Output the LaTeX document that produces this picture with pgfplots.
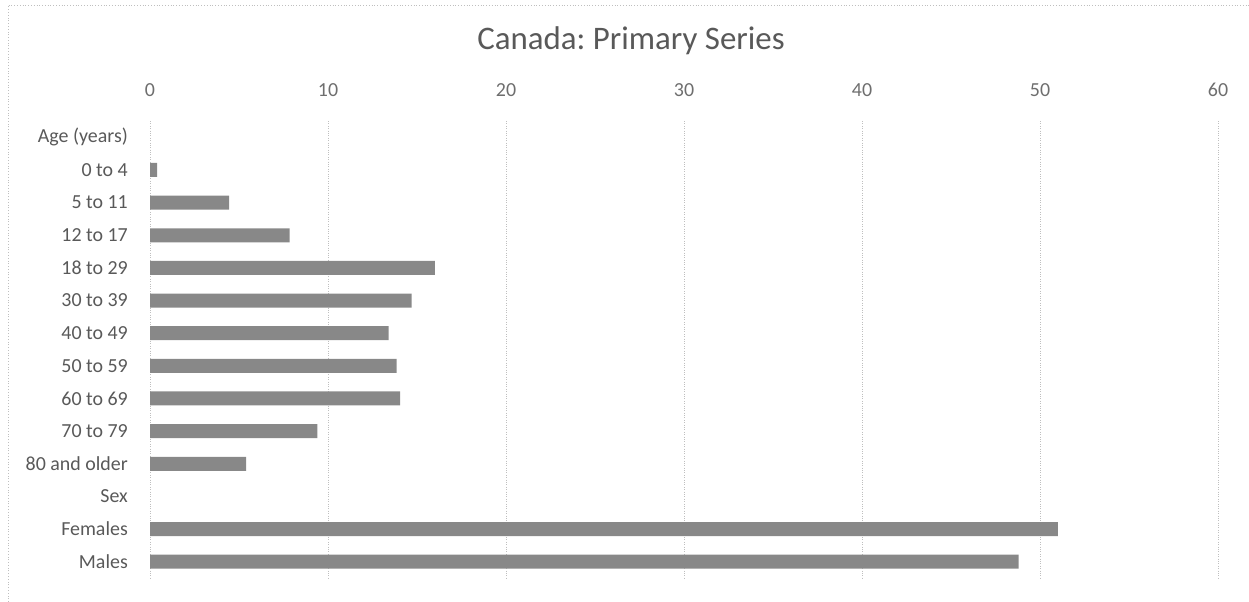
\documentclass[border=0pt]{standalone}
\usepackage{pgfplots}
\pgfplotsset{compat=1.18}
\usepackage{fontspec}
\setmainfont{Carlito}
\frenchspacing
\definecolor{labelgray}{HTML}{595959}
\definecolor{tickgray}{HTML}{6E6E6E}
\definecolor{bargray}{HTML}{888888}
\definecolor{gridgray}{HTML}{BFBFBF}
\begin{document}
\begin{tikzpicture}
\useasboundingbox (0bp,0bp) rectangle (1249bp,-602bp);
% chart frame (top and left edges)
\draw[gridgray, dotted, line width=0.8bp] (8bp,-602bp) -- (8bp,-5bp) -- (1249bp,-5bp);
% title
\node[text=labelgray, font=\fontsize{33}{40}\selectfont, anchor=base] at (631bp,-49bp) {Canada: Primary Series};
\begin{axis}[
  at={(150bp,-578bp)}, anchor=south west,
  scale only axis, width=1068bp, height=457bp,
  xbar, bar width=14bp,
  xmin=0, xmax=60, ymin=-0.5, ymax=13.5, y dir=reverse,
  axis line style={draw=none}, major tick length=0pt,
  xtick={0,10,...,60}, xticklabel pos=right,
  xmajorgrids, major grid style={gridgray, dotted, line width=0.8bp},
  ytick={0,...,13},
  yticklabels={Age (years),0 to 4,5 to 11,12 to 17,18 to 29,30 to 39,40 to 49,50 to 59,60 to 69,70 to 79,80 and older,Sex,Females,Males},
  ticklabel style={font=\fontsize{20}{24}\selectfont, text=labelgray, inner sep=0pt},
  xticklabel style={yshift=24bp, text=tickgray},
  yticklabel style={xshift=-22bp},
  /pgf/number format/assume math mode=true,
]
\addplot[fill=bargray, draw=none] coordinates {
  (0.4,1) (4.45,2) (7.85,3) (16.0,4) (14.7,5) (13.4,6) (13.85,7)
  (14.05,8) (9.4,9) (5.4,10) (51.0,12) (48.8,13)
};
\end{axis}
\end{tikzpicture}
\end{document}
